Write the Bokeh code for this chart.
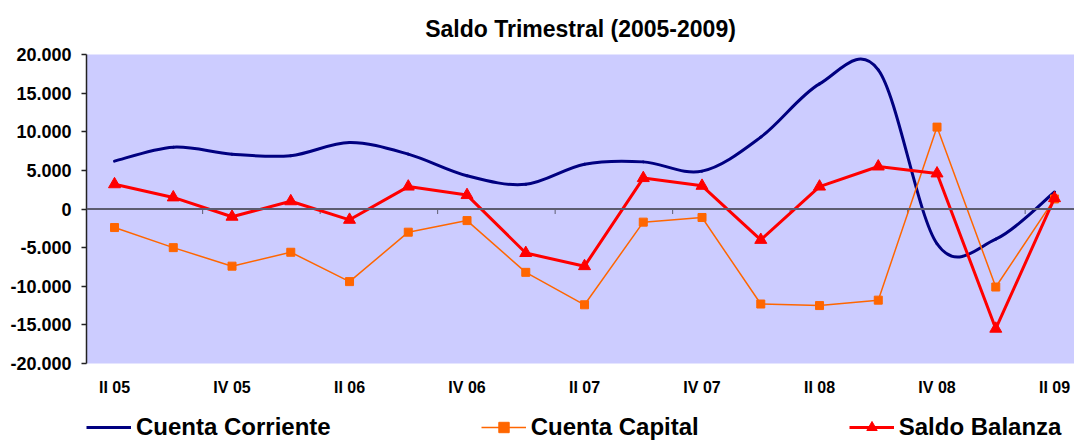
from bokeh.plotting import figure
from bokeh.layouts import column
from bokeh.models import (Range1d, FixedTicker, Span, Legend, LegendItem, ColumnDataSource)
from bokeh.embed import file_html
from bokeh.resources import INLINE

# ---------------- data ----------------
quarters = ["II 05", "III 05", "IV 05", "I 06", "II 06", "III 06", "IV 06", "I 07",
            "II 07", "III 07", "IV 07", "I 08", "II 08", "III 08", "IV 08", "I 09", "II 09"]
cuenta_corriente = [6200, 8000, 7100, 6900, 8600, 7100, 4300, 3200,
                    5800, 6100, 4900, 9300, 16200, 18000, -4500, -3900, 2200]
cuenta_capital = [-2400, -5000, -7400, -5600, -9400, -3000, -1500, -8200,
                  -12400, -1700, -1100, -12300, -12500, -11800, 10600, -10100, 1300]
saldo_balanza = [3200, 1500, -1000, 1000, -1400, 2900, 1800, -5700,
                 -7400, 4000, 3000, -4000, 2900, 5500, 4600, -15500, 1400]
y_ticks = [-20000, -15000, -10000, -5000, 0, 5000, 10000, 15000, 20000]

# ---------------- layout constants ----------------
W, H1, H2 = 1074, 400, 41
B_LEFT, B_TOP, B_BOTTOM = 86, 54, 37
FRAME_W = W - B_LEFT
FRAME_H = H1 - B_TOP - B_BOTTOM
X0 = -0.477
X1 = X0 + FRAME_W / 58.75
Y0, Y1 = -20000, 20000
SY = FRAME_H / (Y1 - Y0)

NAVY, ORANGE, RED = "#000080", "#FF6600", "#FF0000"
xs = list(range(len(quarters)))

p = figure(width=W, height=H1, x_range=Range1d(X0, X1), y_range=Range1d(Y0, Y1),
           output_backend="svg", toolbar_location=None,
           min_border_left=B_LEFT, min_border_right=0, min_border_top=B_TOP,
           min_border_bottom=B_BOTTOM,
           background_fill_color="#CCCCFF", border_fill_color="white",
           outline_line_color=None)
p.xgrid.visible = False
p.ygrid.visible = False

p.title.text = "Saldo Trimestral (2005-2009)"
p.title.align = "center"
p.title.text_font = "Liberation Sans"
p.title.text_font_size = "23px"
p.title.text_font_style = "bold"
p.title.text_color = "black"
p.title.standoff = 25

# y axis
yax = p.yaxis[0]
yax.ticker = FixedTicker(ticks=y_ticks)
yax.major_label_overrides = {t: f"{t:,}".replace(",", ".") for t in y_ticks}
yax.major_label_text_font = "Liberation Sans"
yax.major_label_text_font_size = "18px"
yax.major_label_text_font_style = "bold"
yax.major_label_text_color = "black"
yax.axis_line_color = "#222222"
yax.axis_line_width = 1.5
yax.major_tick_line_color = "#222222"
yax.major_tick_line_width = 1.5
yax.major_tick_out = 5
yax.major_tick_in = 0
yax.minor_tick_line_color = None
yax.major_label_standoff = 10

# x axis (labels only)
xax = p.xaxis[0]
xax.ticker = FixedTicker(ticks=xs[::2])
xax.major_label_overrides = {i: quarters[i] for i in xs[::2]}
xax.major_label_text_font = "Liberation Sans"
xax.major_label_text_font_size = "16px"
xax.major_label_text_font_style = "bold"
xax.major_label_text_color = "black"
xax.axis_line_color = None
xax.major_tick_line_color = None
xax.minor_tick_line_color = None
xax.major_label_standoff = 9

# zero line with category tick marks
p.add_layout(Span(location=0, dimension="width", line_color="#5c5c70", line_width=2))
tick_pos = [i + 0.5 for i in xs[1:-1:2]]
p.segment(x0=tick_pos, y0=[0] * len(tick_pos), x1=tick_pos,
          y1=[-5 / SY] * len(tick_pos), line_color="#5c5c70", line_width=1)

# smoothed Cuenta Corriente: Catmull-Rom style bezier through the data points
def smooth(xv, yv):
    n = len(xv)
    d = dict(x0=[], y0=[], x1=[], y1=[], cx0=[], cy0=[], cx1=[], cy1=[])
    for i in range(n - 1):
        a, b = max(i - 1, 0), min(i + 2, n - 1)
        d["x0"].append(xv[i]); d["y0"].append(yv[i])
        d["x1"].append(xv[i + 1]); d["y1"].append(yv[i + 1])
        d["cx0"].append(xv[i] + (xv[i + 1] - xv[a]) / 6)
        d["cy0"].append(yv[i] + (yv[i + 1] - yv[a]) / 6)
        d["cx1"].append(xv[i + 1] - (xv[b] - xv[i]) / 6)
        d["cy1"].append(yv[i + 1] - (yv[b] - yv[i]) / 6)
    return d

p.bezier(source=ColumnDataSource(smooth(xs, cuenta_corriente)),
         x0="x0", y0="y0", x1="x1", y1="y1", cx0="cx0", cy0="cy0", cx1="cx1", cy1="cy1",
         line_color=NAVY, line_width=3, line_cap="round")
p.line(xs, cuenta_capital, line_color=ORANGE, line_width=1.5)
p.scatter(xs, cuenta_capital, marker="square", size=8, fill_color=ORANGE, line_color=ORANGE)
p.line(xs, saldo_balanza, line_color=RED, line_width=3)
p.scatter(xs, saldo_balanza, marker="triangle", size=12, fill_color=RED, line_color=RED)

# ---------------- legend strip (series kept out of its visible range) ----------------
p2 = figure(width=W, height=H2, x_range=Range1d(0, W), y_range=Range1d(1e6, 1e6 + H2),
            output_backend="svg", toolbar_location=None, x_axis_type=None, y_axis_type=None,
            min_border=0, min_border_left=0, min_border_right=0, min_border_top=0,
            min_border_bottom=0, outline_line_color=None,
            background_fill_color="white", border_fill_color="white")
p2.xgrid.visible = False
p2.ygrid.visible = False
r_cc = p2.line(xs, cuenta_corriente, line_color=NAVY, line_width=3)
r_cap_l = p2.line(xs, cuenta_capital, line_color=ORANGE, line_width=1.5)
r_cap_m = p2.scatter(xs, cuenta_capital, marker="square", size=8,
                     fill_color=ORANGE, line_color=ORANGE)
r_sb_l = p2.line(xs, saldo_balanza, line_color=RED, line_width=3)
r_sb_m = p2.scatter(xs, saldo_balanza, marker="triangle", size=12,
                    fill_color=RED, line_color=RED)

leg = Legend(items=[LegendItem(label="Cuenta Corriente", renderers=[r_cc]),
                    LegendItem(label="Cuenta Capital", renderers=[r_cap_l, r_cap_m]),
                    LegendItem(label="Saldo Balanza", renderers=[r_sb_l, r_sb_m])],
             location=(0, 0), orientation="horizontal", spacing=150,
             background_fill_alpha=0, border_line_alpha=0, padding=0, margin=0,
             glyph_width=45, glyph_height=26, label_height=26, label_standoff=5,
             label_text_font="Liberation Sans", label_text_font_size="24px",
             label_text_font_style="bold", label_text_color="black")
p2.add_layout(leg)

layout = column(p, p2, spacing=0)
open("out.html", "w").write(file_html(layout, INLINE))
